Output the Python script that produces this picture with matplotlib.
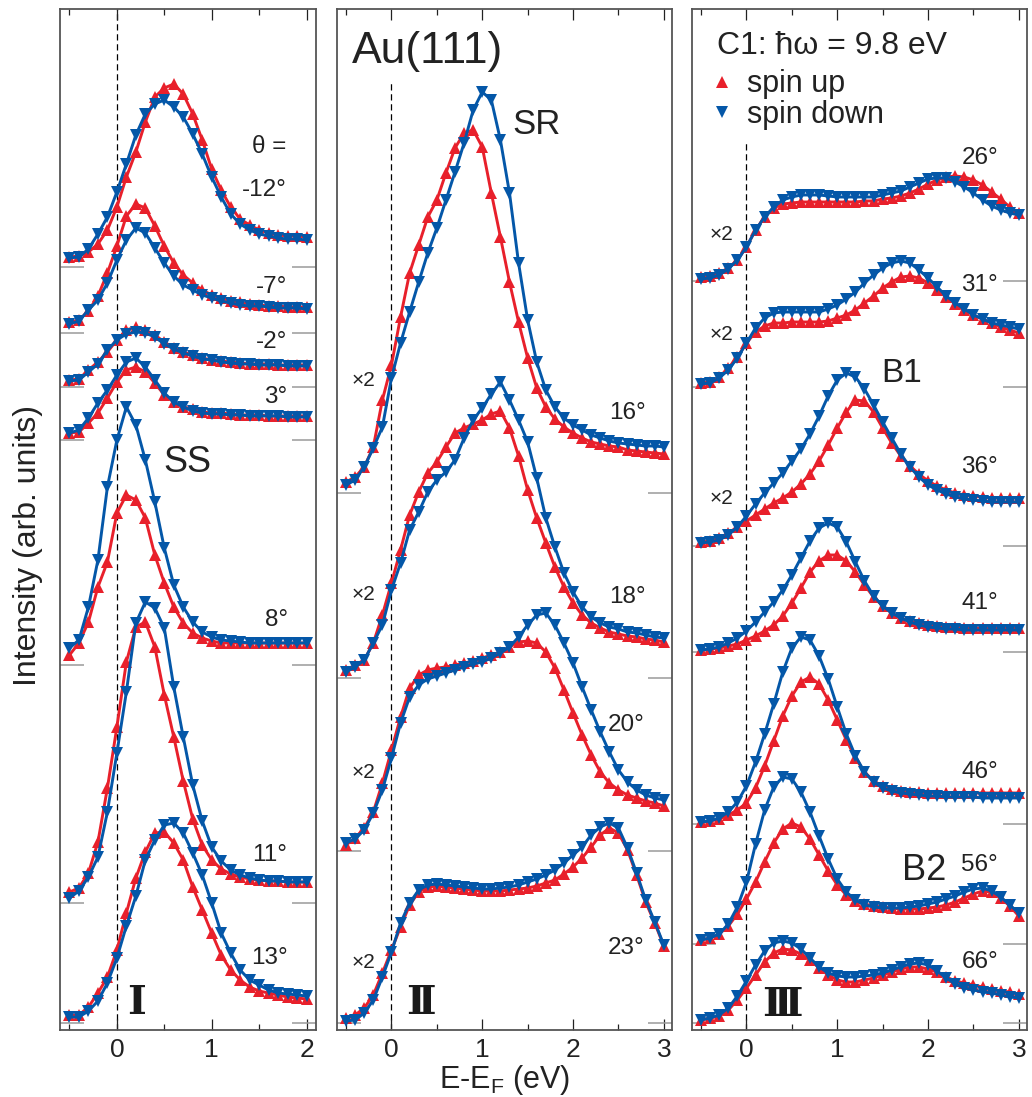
import numpy as np
import matplotlib
matplotlib.use('Agg')
import matplotlib.pyplot as plt
from matplotlib.lines import Line2D
from matplotlib.ticker import MultipleLocator

plt.rcParams['font.family'] = ['Liberation Sans', 'DejaVu Sans']
plt.rcParams['mathtext.fontset'] = 'custom'
plt.rcParams['mathtext.rm'] = 'Liberation Sans'
plt.rcParams['mathtext.it'] = 'Liberation Sans:italic'

RED = '#e8202b'
BLUE = '#0457a8'

# ---- Panel I : surface state, E-EF grid -0.5 ... 2.0 eV ----
energy_I = [-0.5, -0.4, -0.3, -0.2, -0.1, 0.0, 0.1, 0.2, 0.3, 0.4, 0.5, 0.6, 0.7,
            0.8, 0.9, 1.0, 1.1, 1.2, 1.3, 1.4, 1.5, 1.6, 1.7, 1.8, 1.9, 2.0]
angles_I = ['-12°', '-7°', '-2°', '3°', '8°', '11°', '13°']
offsets_I = [763, 697, 643, 590, 365, 127, 7]

up_m12 = [10, 11, 15, 23, 37, 60, 90, 115, 145, 170, 179, 183, 173, 153, 127, 98, 77, 60, 48, 42, 37, 34, 32, 31, 31, 30]
dn_m12 = [9, 10, 18, 33, 50, 75, 103, 132, 153, 163, 167, 160, 150, 133, 113, 90, 70, 53, 43, 37, 33, 31, 29, 28, 28, 27]
up_m7 = [11, 13, 22, 37, 60, 87, 117, 129, 125, 107, 87, 70, 58, 50, 43, 38, 35, 32, 31, 29, 28, 27, 27, 26, 26, 26]
dn_m7 = [9, 12, 23, 33, 50, 73, 93, 105, 100, 85, 70, 57, 48, 43, 38, 35, 32, 30, 28, 27, 27, 26, 25, 25, 25, 24]
up_m2 = [7, 8, 17, 25, 35, 47, 57, 60, 57, 52, 45, 39, 35, 32, 29, 27, 26, 25, 24, 23, 23, 23, 22, 22, 22, 22]
dn_m2 = [6, 7, 15, 23, 37, 47, 53, 55, 54, 50, 43, 38, 34, 31, 28, 27, 25, 24, 23, 23, 22, 22, 22, 21, 21, 21]
up_p3 = [7, 8, 17, 27, 42, 58, 70, 73, 68, 57, 45, 38, 33, 31, 28, 27, 27, 26, 25, 25, 25, 24, 24, 24, 24, 24]
dn_p3 = [7, 10, 22, 37, 50, 65, 78, 82, 73, 60, 47, 38, 33, 29, 27, 26, 26, 25, 25, 24, 24, 24, 24, 23, 23, 23]
up_p8 = [10, 22, 43, 78, 103, 152, 170, 165, 147, 110, 82, 58, 42, 32, 27, 24, 22, 22, 22, 22, 22, 22, 22, 22, 22, 22]
dn_p8 = [17, 25, 58, 105, 178, 225, 258, 240, 205, 163, 117, 80, 58, 43, 33, 28, 25, 24, 23, 22, 22, 22, 22, 22, 22, 22]
up_p11 = [11, 15, 30, 61, 115, 176, 241, 276, 281, 256, 208, 166, 122, 84, 58, 43, 34, 29, 26, 24, 23, 22, 22, 21, 21, 21]
dn_p11 = [5, 12, 26, 46, 91, 150, 211, 280, 301, 295, 275, 216, 166, 118, 82, 56, 42, 33, 28, 25, 23, 22, 22, 21, 21, 21]
up_p13 = [8, 8, 16, 30, 46, 73, 110, 145, 171, 190, 191, 180, 163, 136, 113, 90, 68, 53, 43, 36, 32, 30, 28, 26, 25, 24]
dn_p13 = [6, 6, 12, 22, 40, 65, 97, 127, 163, 183, 198, 200, 190, 170, 148, 120, 90, 70, 53, 43, 38, 33, 30, 29, 28, 27]

# ---- Panel II : surface resonance, E-EF grid -0.5 ... 3.0 eV ----
energy_II = [-0.5, -0.4, -0.3, -0.2, -0.1, 0.0, 0.1, 0.2, 0.3, 0.4, 0.5, 0.6,
             0.7, 0.8, 0.9, 1.0, 1.1, 1.2, 1.3, 1.4, 1.5, 1.6, 1.7, 1.8,
             1.9, 2.0, 2.1, 2.2, 2.3, 2.4, 2.5, 2.6, 2.7, 2.8, 2.9, 3.0]
angles_II = ['16°', '18°', '20°', '23°']
offsets_II = [537, 352, 179, 7]

up_16 = [11, 16, 26, 46, 93, 128, 176, 220, 248, 276, 293, 320, 345, 360, 363, 346, 300, 256, 211, 171, 135, 105, 86, 74, 66, 60, 55, 51, 49, 47, 46, 43, 42, 41, 40, 39]
dn_16 = [8, 13, 26, 45, 66, 115, 150, 181, 211, 240, 265, 293, 321, 350, 383, 401, 393, 353, 300, 230, 173, 131, 103, 86, 75, 68, 63, 58, 55, 52, 50, 49, 48, 47, 47, 46]
up_18 = [8, 13, 18, 35, 63, 95, 128, 163, 186, 205, 216, 231, 245, 250, 254, 258, 264, 267, 250, 222, 188, 160, 135, 111, 91, 75, 63, 55, 50, 46, 44, 42, 41, 39, 38, 36]
dn_18 = [6, 11, 18, 35, 53, 88, 115, 148, 166, 186, 198, 206, 218, 240, 258, 270, 284, 296, 278, 258, 236, 200, 160, 131, 105, 86, 71, 61, 55, 51, 49, 46, 45, 43, 41, 40]
up_20 = [6, 13, 23, 39, 68, 101, 134, 163, 176, 181, 183, 184, 186, 188, 190, 193, 196, 199, 204, 209, 210, 208, 199, 183, 161, 138, 116, 96, 79, 68, 61, 56, 53, 50, 48, 45]
dn_20 = [8, 12, 21, 38, 61, 93, 128, 154, 166, 172, 175, 178, 181, 184, 187, 189, 193, 198, 204, 214, 226, 236, 238, 226, 208, 188, 164, 141, 119, 99, 81, 69, 61, 56, 53, 51]
up_23 = [5, 8, 15, 28, 50, 73, 96, 118, 131, 136, 137, 136, 135, 134, 133, 132, 132, 132, 133, 134, 135, 137, 140, 143, 149, 156, 165, 176, 188, 195, 190, 173, 148, 121, 100, 77]
dn_23 = [2, 3, 10, 23, 46, 71, 100, 120, 133, 138, 139, 138, 137, 136, 135, 134, 134, 135, 136, 138, 141, 144, 148, 153, 160, 168, 176, 188, 196, 200, 195, 175, 150, 123, 101, 78]

# ---- Panel III : bulk bands, E-EF grid -0.5 ... 3.0 eV ----
energy_III = energy_II
angles_III = ['26°', '31°', '36°', '41°', '46°', '56°', '66°']
offsets_III = [749, 643, 484, 378, 206, 86, 7]

up_26 = [4, 5, 8, 13, 21, 34, 51, 64, 73, 77, 78, 79, 79, 79, 79, 79, 79, 79, 80, 80, 82, 83, 85, 88, 92, 97, 101, 104, 105, 104, 101, 96, 89, 82, 74, 68]
dn_26 = [2, 3, 6, 12, 21, 34, 51, 64, 74, 81, 84, 86, 86, 86, 85, 84, 84, 84, 84, 84, 86, 88, 90, 94, 98, 102, 103, 103, 99, 94, 88, 81, 75, 71, 68, 66]
up_31 = [4, 5, 10, 19, 30, 44, 55, 61, 64, 64, 65, 65, 65, 65, 66, 69, 72, 77, 84, 91, 99, 105, 110, 111, 109, 104, 97, 90, 83, 77, 72, 68, 64, 60, 57, 54]
dn_31 = [3, 4, 9, 17, 29, 44, 59, 69, 74, 75, 75, 75, 75, 75, 78, 82, 88, 95, 104, 112, 119, 124, 126, 124, 117, 109, 100, 91, 84, 78, 72, 68, 64, 62, 60, 58]
up_36 = [4, 5, 8, 13, 19, 25, 31, 37, 43, 48, 54, 62, 72, 85, 101, 118, 134, 146, 145, 134, 118, 103, 90, 80, 72, 65, 60, 56, 53, 51, 50, 49, 48, 48, 48, 48]
dn_36 = [3, 4, 6, 11, 19, 30, 42, 53, 63, 73, 85, 97, 112, 130, 150, 166, 173, 169, 157, 141, 124, 108, 92, 79, 69, 61, 56, 52, 49, 47, 46, 45, 44, 44, 44, 44]
up_41 = [2, 3, 4, 6, 8, 12, 16, 21, 27, 36, 49, 64, 80, 91, 97, 97, 91, 80, 67, 55, 46, 39, 34, 31, 29, 27, 26, 25, 25, 24, 24, 24, 24, 24, 24, 24]
dn_41 = [2, 3, 5, 9, 14, 21, 30, 40, 50, 62, 77, 94, 111, 124, 129, 125, 110, 90, 71, 56, 46, 39, 34, 30, 27, 25, 24, 23, 23, 22, 22, 22, 22, 22, 22, 22]
up_46 = [2, 3, 5, 9, 14, 21, 36, 58, 83, 108, 128, 142, 147, 140, 124, 104, 84, 66, 52, 43, 38, 35, 33, 32, 32, 31, 31, 31, 31, 31, 31, 31, 31, 31, 31, 31]
dn_46 = [2, 3, 6, 12, 22, 38, 62, 90, 120, 152, 176, 187, 184, 168, 145, 117, 90, 68, 52, 42, 36, 33, 31, 30, 29, 28, 28, 27, 27, 27, 27, 26, 26, 26, 26, 26]
up_56 = [4, 6, 10, 18, 30, 45, 62, 82, 101, 115, 121, 117, 105, 89, 73, 59, 49, 43, 40, 38, 37, 36, 35, 35, 35, 36, 37, 39, 42, 46, 50, 53, 52, 46, 38, 28]
dn_56 = [4, 6, 10, 20, 37, 62, 100, 134, 157, 167, 165, 152, 132, 108, 85, 65, 52, 44, 39, 37, 36, 36, 36, 37, 38, 40, 42, 45, 48, 52, 55, 56, 53, 47, 39, 31]
up_66 = [3, 5, 7, 13, 23, 35, 48, 61, 70, 74, 73, 69, 63, 55, 48, 43, 41, 41, 43, 45, 48, 51, 54, 56, 56, 54, 51, 46, 42, 40, 38, 36, 34, 32, 31, 29]
dn_66 = [3, 5, 8, 15, 27, 42, 58, 72, 80, 82, 80, 74, 65, 56, 50, 47, 46, 46, 47, 48, 50, 53, 56, 59, 60, 58, 52, 45, 39, 35, 33, 31, 30, 28, 26, 25]

ups_I = [up_m12, up_m7, up_m2, up_p3, up_p8, up_p11, up_p13]
dns_I = [dn_m12, dn_m7, dn_m2, dn_p3, dn_p8, dn_p11, dn_p13]
ups_II = [up_16, up_18, up_20, up_23]
dns_II = [dn_16, dn_18, dn_20, dn_23]
ups_III = [up_26, up_31, up_36, up_41, up_46, up_56, up_66]
dns_III = [dn_26, dn_31, dn_36, dn_41, dn_46, dn_56, dn_66]


def draw_panel(ax, energy, ups, dns, offsets, xmax, dash_top):
    e = np.array(energy)
    ax.axvline(0, ymin=0, ymax=dash_top, color='k', lw=0.9,
               ls=(0, (5, 3)), zorder=1)
    for up, dn, off in zip(ups, dns, offsets):
        yu = off + np.array(up)
        yd = off + np.array(dn)
        ax.plot(e, yu, ls='none', marker='^', ms=8.3, mew=0, color=RED, zorder=2)
        ax.plot(e, yu, '-', lw=2.1, color=RED, zorder=3)
        ax.plot(e, yd, ls='none', marker='v', ms=8.3, mew=0, color=BLUE, zorder=4)
        ax.plot(e, yd, '-', lw=2.1, color=BLUE, zorder=5)
    ax.set_xlim(-0.6, xmax)
    ax.set_ylim(0, 1021)
    ax.set_yticks(offsets)
    ax.tick_params(axis='y', which='major', direction='in', length=17,
                   width=1.1, color='#9a9a9a', left=True, right=True,
                   labelleft=False)
    ax.xaxis.set_major_locator(MultipleLocator(1))
    ax.xaxis.set_minor_locator(MultipleLocator(0.5))
    ax.tick_params(axis='x', which='major', direction='in', length=8,
                   width=0.9, top=True, labelsize=19, pad=6, colors='#222222')
    ax.tick_params(axis='x', which='minor', direction='in', length=4.5,
                   width=0.9, top=True, color='#222222')
    for sp in ax.spines.values():
        sp.set_color('#555555')
        sp.set_linewidth(1.3)


fig = plt.figure(figsize=(10.32, 10.97), dpi=100)
W, H = 1032, 1097
edges = [(60, 316), (337, 672), (692, 1027)]
axs = [fig.add_axes([l / W, 1 - 1030 / H, (r - l) / W, 1021 / H]) for l, r in edges]
ax1, ax2, ax3 = axs

draw_panel(ax1, energy_I, ups_I, dns_I, offsets_I, 2.1, 1.0)
draw_panel(ax2, energy_II, ups_II, dns_II, offsets_II, 3.09, 0.93)
draw_panel(ax3, energy_III, ups_III, dns_III, offsets_III, 3.09, 0.872)

deg = dict(fontsize=17.5, ha='center', va='center', color='#222222')
roman = dict(fontsize=29, ha='center', va='center', color='#1a1a1a',
             family=['DejaVu Serif'], fontweight='bold')
x2 = dict(fontsize=15, ha='center', va='center', color='#222222')

# panel I labels
ax1.text(1.61, 883, 'θ =', **deg)
for lab, xx, yy in zip(angles_I, [1.55, 1.63, 1.63, 1.68, 1.68, 1.61, 1.61],
                       [840, 743, 688, 633, 410, 175, 72]):
    ax1.text(xx, yy, lab, **deg)
ax1.text(0.74, 568, 'SS', fontsize=26, ha='center', va='center', color='#222222')
ax1.text(0.21, 27, 'Ⅰ', **roman)

# panel II labels
ax2.text(0.40, 978, 'Au(111)', fontsize=32, ha='center', va='center', color='#222222')
ax2.text(1.60, 906, 'SR', fontsize=25, ha='center', va='center', color='#222222')
for lab, xx, yy in zip(angles_II, [2.60, 2.60, 2.59, 2.59], [617, 433, 305, 82]):
    ax2.text(xx, yy, lab, **deg)
for yy in [650, 435, 257, 67]:
    ax2.text(-0.31, yy, '×2', **x2)
ax2.text(0.33, 27, 'Ⅱ', **roman)

# panel III labels
ax3.text(-0.33, 984, 'C1: ħω = 9.8 eV', fontsize=23, ha='left', va='center',
         color='#222222')
for lab, yy in zip(angles_III, [872, 745, 563, 427, 258, 165, 68]):
    ax3.text(2.57, yy, lab, **deg)
ax3.text(1.71, 657, 'B1', fontsize=24, ha='center', va='center', color='#222222')
ax3.text(1.96, 160, 'B2', fontsize=26, ha='center', va='center', color='#222222')
for yy in [795, 695, 532]:
    ax3.text(-0.28, yy, '×2', **x2)
ax3.text(0.40, 25, 'Ⅲ', **roman)

handles = [Line2D([], [], ls='none', marker='^', ms=8.5, mew=0, color=RED),
           Line2D([], [], ls='none', marker='v', ms=8.5, mew=0, color=BLUE)]
leg = ax3.legend(handles, ['spin up', 'spin down'], loc='upper left',
                 bbox_to_anchor=(0.054, 0.941), frameon=False, fontsize=22,
                 borderpad=0, borderaxespad=0, handlelength=0.8,
                 handletextpad=0.41, labelspacing=0.03)
for t in leg.get_texts():
    t.set_color('#222222')

fig.text(505 / W, 1 - 1080 / H, 'E-E$_\\mathrm{F}$ (eV)', fontsize=22,
         ha='center', va='center', color='#222222')
fig.text(28 / W, 1 - 545 / H, 'Intensity (arb. units)', fontsize=23,
         rotation=90, ha='center', va='center', color='#222222')

fig.savefig('out.png', dpi=100)
